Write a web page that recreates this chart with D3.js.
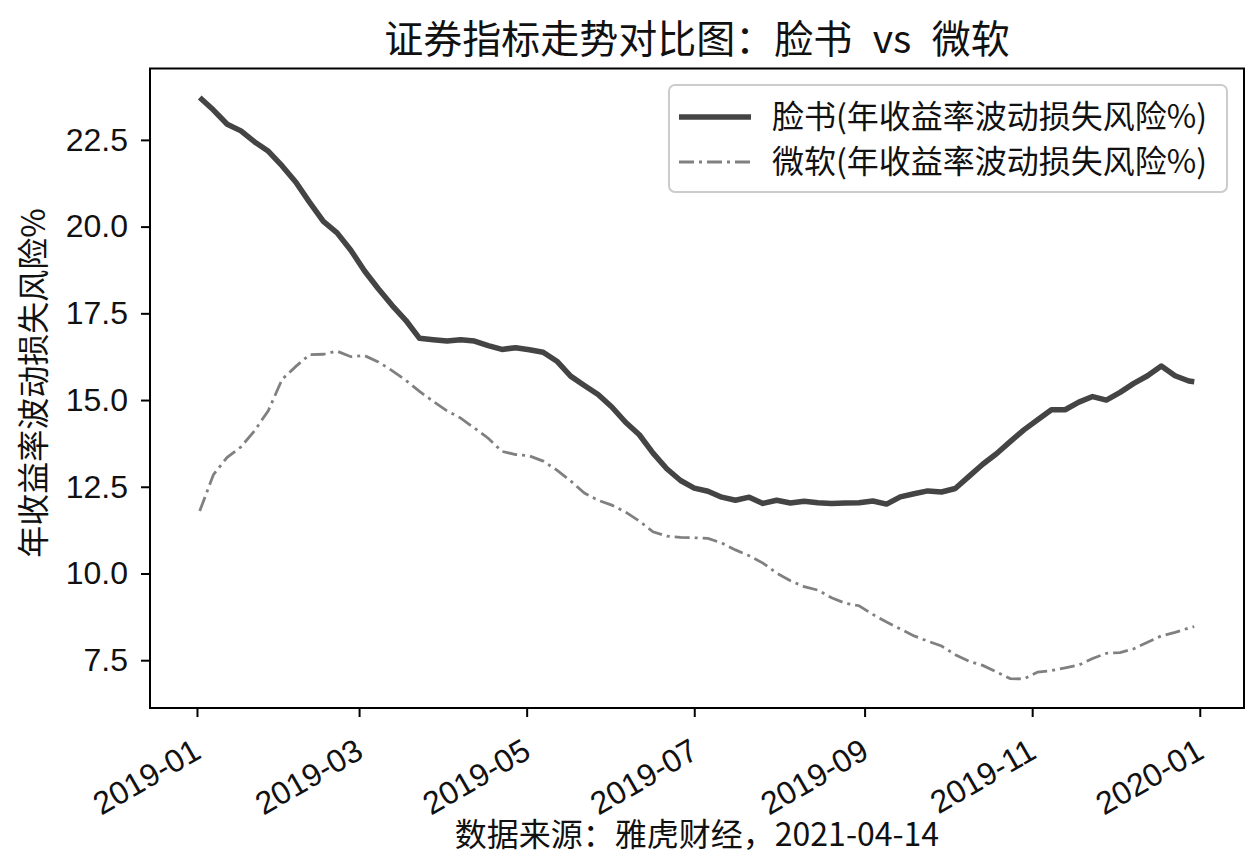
<!DOCTYPE html>
<html>
<head>
<meta charset="utf-8">
<script src="https://cdn.jsdelivr.net/npm/d3@7"></script>
<style>
  body { margin: 0; background: #fff; }
  svg { font-family: "Noto Sans CJK SC", "DejaVu Sans", sans-serif; }
</style>
</head>
<body>
<svg id="chart" width="1252" height="860"></svg>
<script>
// 日期（约每5天一个点）
const dates = [
  "2019-01-02","2019-01-07","2019-01-12","2019-01-17","2019-01-22","2019-01-27",
  "2019-02-01","2019-02-06","2019-02-11","2019-02-16","2019-02-21","2019-02-26",
  "2019-03-03","2019-03-08","2019-03-13","2019-03-18","2019-03-23","2019-03-28",
  "2019-04-02","2019-04-07","2019-04-12","2019-04-17","2019-04-22","2019-04-27",
  "2019-05-02","2019-05-07","2019-05-12","2019-05-17","2019-05-22","2019-05-27",
  "2019-06-01","2019-06-06","2019-06-11","2019-06-16","2019-06-21","2019-06-26",
  "2019-07-01","2019-07-06","2019-07-11","2019-07-16","2019-07-21","2019-07-26",
  "2019-07-31","2019-08-05","2019-08-10","2019-08-15","2019-08-20","2019-08-25",
  "2019-08-30","2019-09-04","2019-09-09","2019-09-14","2019-09-19","2019-09-24",
  "2019-09-29","2019-10-04","2019-10-09","2019-10-14","2019-10-19","2019-10-24",
  "2019-10-29","2019-11-03","2019-11-08","2019-11-13","2019-11-18","2019-11-23",
  "2019-11-28","2019-12-03","2019-12-08","2019-12-13","2019-12-18","2019-12-23",
  "2019-12-28","2019-12-30"
]

// 脸书 年收益率波动损失风险%
const fbValues = [
  23.72,23.36,22.95,22.76,22.44,22.17,
  21.75,21.28,20.70,20.15,19.82,19.32,
  18.72,18.21,17.73,17.30,16.78,16.74,
  16.70,16.74,16.70,16.57,16.46,16.51,
  16.45,16.38,16.12,15.69,15.42,15.16,
  14.80,14.36,14.00,13.47,13.02,12.68,
  12.46,12.37,12.20,12.11,12.20,12.02,
  12.11,12.03,12.08,12.04,12.02,12.03,
  12.04,12.09,12.00,12.21,12.30,12.38,
  12.35,12.45,12.80,13.15,13.45,13.80,
  14.14,14.43,14.72,14.72,14.94,15.10,
  15.00,15.22,15.48,15.70,15.98,15.70,
  15.55,15.53
]

// 微软 年收益率波动损失风险%
const msValues = [
  11.80,12.85,13.35,13.65,14.12,14.70,
  15.60,15.97,16.31,16.32,16.41,16.25,
  16.28,16.10,15.85,15.57,15.25,14.96,
  14.69,14.48,14.19,13.90,13.52,13.43,
  13.39,13.24,12.98,12.67,12.32,12.11,
  11.97,11.77,11.51,11.20,11.08,11.04,
  11.03,11.01,10.88,10.68,10.51,10.30,
  10.01,9.79,9.62,9.52,9.30,9.14,
  9.07,8.82,8.60,8.40,8.20,8.05,
  7.91,7.66,7.47,7.35,7.16,6.97,
  6.96,7.16,7.20,7.28,7.36,7.55,
  7.70,7.72,7.83,8.02,8.20,8.30,
  8.43,8.47
]

const yTicks = [7.5, 10.0, 12.5, 15.0, 17.5, 20.0, 22.5]
const seriesNames = ["脸书(年收益率波动损失风险%)", "微软(年收益率波动损失风险%)"]
const titleText = "证券指标走势对比图：脸书 vs 微软"
const xLabel = "数据来源：雅虎财经，2021-04-14"
const yLabel = "年收益率波动损失风险%"

const parse = d3.timeParse("%Y-%m-%d")
const fb = dates.map((d, i) => ({date: parse(d), v: fbValues[i]}))
const ms = dates.map((d, i) => ({date: parse(d), v: msValues[i]}))

const plot = {left: 150, right: 1244, top: 68.5, bottom: 708}
const svg = d3.select("#chart")

// 像 matplotlib 一样留 5% 边距
const xExt = d3.extent(fb, d => d.date)
const xPad = (xExt[1] - xExt[0]) * 0.05
const xScale = d3.scaleTime()
  .domain([new Date(+xExt[0] - xPad), new Date(+xExt[1] + xPad)])
  .range([plot.left, plot.right])

const allV = fbValues.concat(msValues)
const yMin = d3.min(allV), yMax = d3.max(allV)
const yPad = (yMax - yMin) * 0.05
const yScale = d3.scaleLinear()
  .domain([yMin - yPad, yMax + yPad])
  .range([plot.bottom, plot.top])

// 线
const line = d3.line()
  .x(d => xScale(d.date))
  .y(d => yScale(d.v))

svg.append("path")
  .datum(ms)
  .attr("d", line)
  .attr("fill", "none")
  .attr("stroke", "#808080")
  .attr("stroke-width", 2.8)
  .attr("stroke-dasharray", "15,5,3,5")

svg.append("path")
  .datum(fb)
  .attr("d", line)
  .attr("fill", "none")
  .attr("stroke", "#444")
  .attr("stroke-width", 5.5)
  .attr("stroke-linejoin", "round")

// 坐标轴
const xAxis = d3.axisBottom(xScale)
  .ticks(d3.timeMonth.every(2))
  .tickFormat(d3.timeFormat("%Y-%m"))
  .tickSize(9)
  .tickSizeOuter(0)

const gx = svg.append("g")
  .attr("transform", `translate(0, ${plot.bottom})`)
  .call(xAxis)
gx.select(".domain").remove()
gx.selectAll(".tick line").attr("stroke", "#000").attr("stroke-width", 2)
gx.selectAll(".tick text")
  .attr("font-size", 32)
  .attr("fill", "#111")
  .attr("text-anchor", "end")
  .attr("x", 0).attr("y", 0)
  .attr("transform", "translate(-6, 29) rotate(-30)")
  .attr("dy", "0.72em")

const yAxis = d3.axisLeft(yScale)
  .tickValues(yTicks)
  .tickFormat(d3.format(".1f"))
  .tickSize(9)
  .tickSizeOuter(0)

const gy = svg.append("g")
  .attr("transform", `translate(${plot.left}, 0)`)
  .call(yAxis)
gy.select(".domain").remove()
gy.selectAll(".tick line").attr("stroke", "#000").attr("stroke-width", 2)
gy.selectAll(".tick text")
  .attr("font-size", 32)
  .attr("fill", "#111")
  .attr("x", -22)

// 边框
svg.append("rect")
  .attr("x", plot.left).attr("y", plot.top)
  .attr("width", plot.right - plot.left)
  .attr("height", plot.bottom - plot.top)
  .attr("fill", "none")
  .attr("stroke", "#000")
  .attr("stroke-width", 2)

// 标题与轴标签
svg.append("text")
  .text(titleText)
  .attr("x", (plot.left + plot.right) / 2)
  .attr("y", 53)
  .attr("text-anchor", "middle")
  .attr("font-size", 39)
  .attr("word-spacing", "0.3em")
  .attr("fill", "#111")

svg.append("text")
  .text(xLabel)
  .attr("x", (plot.left + plot.right) / 2)
  .attr("y", 846)
  .attr("text-anchor", "middle")
  .attr("font-size", 32)
  .attr("fill", "#111")

svg.append("text")
  .text(yLabel)
  .attr("transform", `translate(45, 383) rotate(-90)`)
  .attr("text-anchor", "middle")
  .attr("font-size", 32)
  .attr("fill", "#111")

// 图例
const legend = svg.append("g")
legend.append("rect")
  .attr("x", 669).attr("y", 85)
  .attr("width", 558).attr("height", 107)
  .attr("rx", 6)
  .attr("fill", "#fff")
  .attr("fill-opacity", 0.85)
  .attr("stroke", "#cccccc")
  .attr("stroke-width", 2)

const legendItems = [
  {name: seriesNames[0], color: "#444", width: 5.5, dash: null},
  {name: seriesNames[1], color: "#808080", width: 2.8, dash: "15,5,3,5"}
]
legendItems.forEach((it, i) => {
  const y = 117 + i * 45
  legend.append("line")
    .attr("x1", 679).attr("x2", 751)
    .attr("y1", y).attr("y2", y)
    .attr("stroke", it.color)
    .attr("stroke-width", it.width)
    .attr("stroke-dasharray", it.dash)
  legend.append("text")
    .text(it.name)
    .attr("x", 772).attr("y", y)
    .attr("dy", "0.35em")
    .attr("font-size", 32)
    .attr("fill", "#111")
})
</script>
</body>
</html>
